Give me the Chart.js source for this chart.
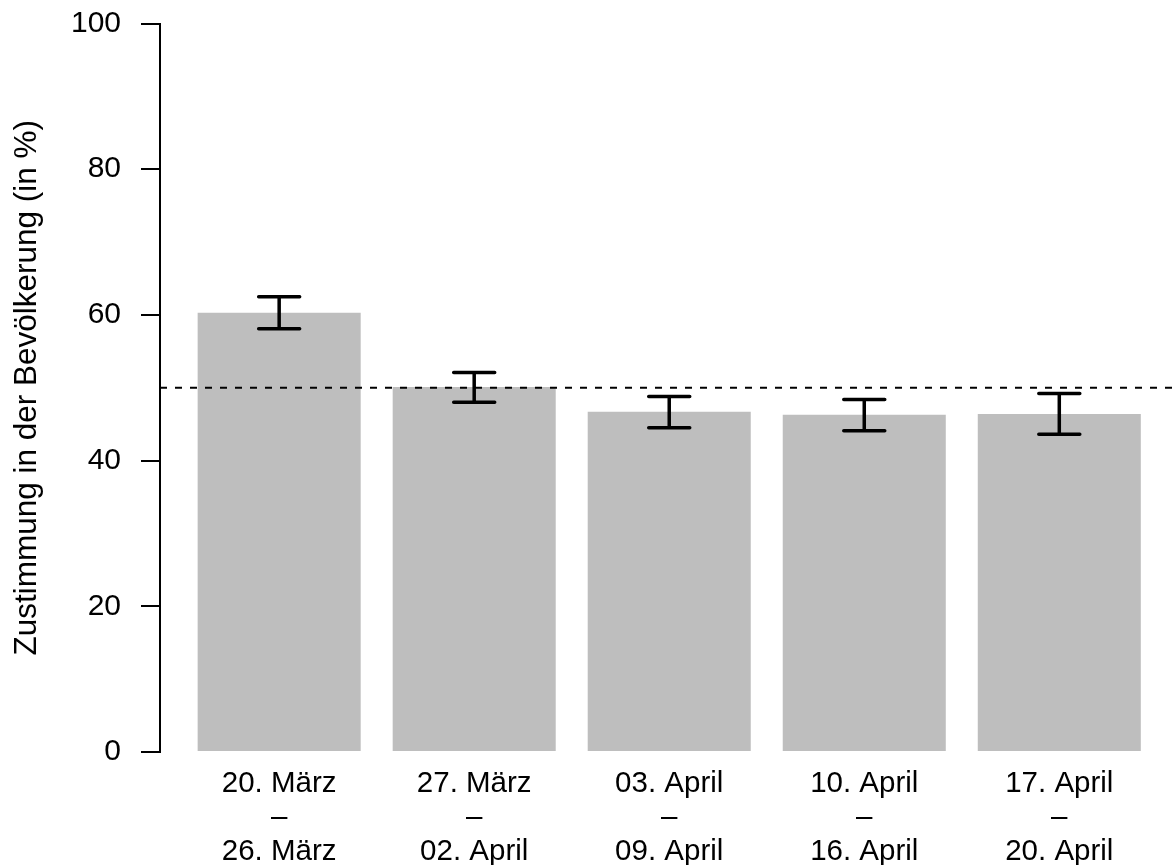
<!DOCTYPE html>
<html>
<head>
<meta charset="utf-8">
<script src="https://cdn.jsdelivr.net/npm/chart.js@4"></script>
<style>
  html, body { margin: 0; padding: 0; background: #ffffff; }
  #wrap { width: 1173px; height: 865px; }
</style>
</head>
<body>
<div id="wrap"><canvas id="c" width="1173" height="865"></canvas></div>
<script>
// ---- data ----
const categories = [
  ['20. März', '–', '26. März'],
  ['27. März', '–', '02. April'],
  ['03. April', '–', '09. April'],
  ['10. April', '–', '16. April'],
  ['17. April', '–', '20. April']
];
const positions = [1, 2, 3, 4, 5];
const values = [60.3, 50.1, 46.7, 46.3, 46.4];
const lowerCI = [58.1, 48.0, 44.5, 44.1, 43.6];
const upperCI = [62.5, 52.1, 48.8, 48.4, 49.2];
const yTicks = [0, 20, 40, 60, 80, 100];
const referenceValue = 50;
const yTitle = 'Zustimmung in der Bevölkerung (in %)';

// axis range (x in bar units)
const xMin = 0.389;
const xMax = 5.583;

const FONT = '"Liberation Sans", Arial, Helvetica, sans-serif';

const errorBarPlugin = {
  id: 'errorBars',
  afterDatasetsDraw(chart) {
    const meta = chart.getDatasetMeta(0);
    const yScale = chart.scales.y;
    const ctx = chart.ctx;
    ctx.save();
    ctx.strokeStyle = '#000000';
    ctx.lineWidth = 3.5;
    ctx.lineCap = 'round';
    const half = 20.5;
    meta.data.forEach((bar, i) => {
      const x = bar.x;
      const yl = yScale.getPixelForValue(lowerCI[i]);
      const yu = yScale.getPixelForValue(upperCI[i]);
      ctx.beginPath();
      ctx.moveTo(x, yl); ctx.lineTo(x, yu);
      ctx.moveTo(x - half, yu); ctx.lineTo(x + half, yu);
      ctx.moveTo(x - half, yl); ctx.lineTo(x + half, yl);
      ctx.stroke();
    });
    ctx.restore();
  }
};

new Chart(document.getElementById('c'), {
  data: {
    datasets: [
      {
        type: 'bar',
        data: positions.map((p, i) => ({ x: p, y: values[i] })),
        backgroundColor: '#bebebe',
        borderWidth: 0,
        barPercentage: 0.836,
        categoryPercentage: 1.0,
        order: 2
      },
      {
        type: 'line',
        data: [{ x: xMin, y: referenceValue }, { x: xMax, y: referenceValue }],
        borderColor: '#000000',
        borderWidth: 2,
        borderDash: [7, 8],
        pointRadius: 0,
        fill: false,
        order: 1
      }
    ]
  },
  options: {
    responsive: false,
    animation: false,
    events: [],
    layout: { padding: { top: 23.5, right: 0, bottom: 0, left: 0 } },
    plugins: {
      legend: { display: false },
      tooltip: { enabled: false }
    },
    scales: {
      x: {
        type: 'linear',
        min: xMin,
        max: xMax,
        offset: false,
        grid: { display: false, offset: false },
        border: { display: false },
        afterBuildTicks(scale) {
          scale.ticks = positions.map(v => ({ value: v }));
        },
        afterFit(scale) {
          scale.height = 113;
          scale.paddingLeft = 0;
          scale.paddingRight = 0;
        },
        ticks: {
          color: '#000000',
          padding: 7,
          maxRotation: 0,
          autoSkip: false,
          font: { family: FONT, size: 29.5, lineHeight: 34 / 29.5 },
          callback(value) {
            const idx = positions.indexOf(value);
            return idx >= 0 ? categories[idx] : '';
          }
        }
      },
      y: {
        type: 'linear',
        min: 0,
        max: 100,
        afterBuildTicks(scale) {
          scale.ticks = yTicks.map(v => ({ value: v }));
        },
        afterFit(scale) {
          scale.width = 160;
          scale.paddingTop = 0;
          scale.paddingBottom = 0;
        },
        grid: {
          display: true,
          drawOnChartArea: false,
          drawTicks: true,
          tickLength: 19,
          color: '#000000',
          lineWidth: 2
        },
        border: { display: true, color: '#000000', width: 2 },
        ticks: {
          color: '#000000',
          padding: 20,
          font: { family: FONT, size: 30 }
        },
        title: {
          display: true,
          text: yTitle,
          color: '#000000',
          padding: { top: 8, bottom: 0 },
          font: { family: FONT, size: 31.5, lineHeight: 1.2 }
        }
      }
    }
  },
  plugins: [errorBarPlugin]
});
</script>
</body>
</html>
